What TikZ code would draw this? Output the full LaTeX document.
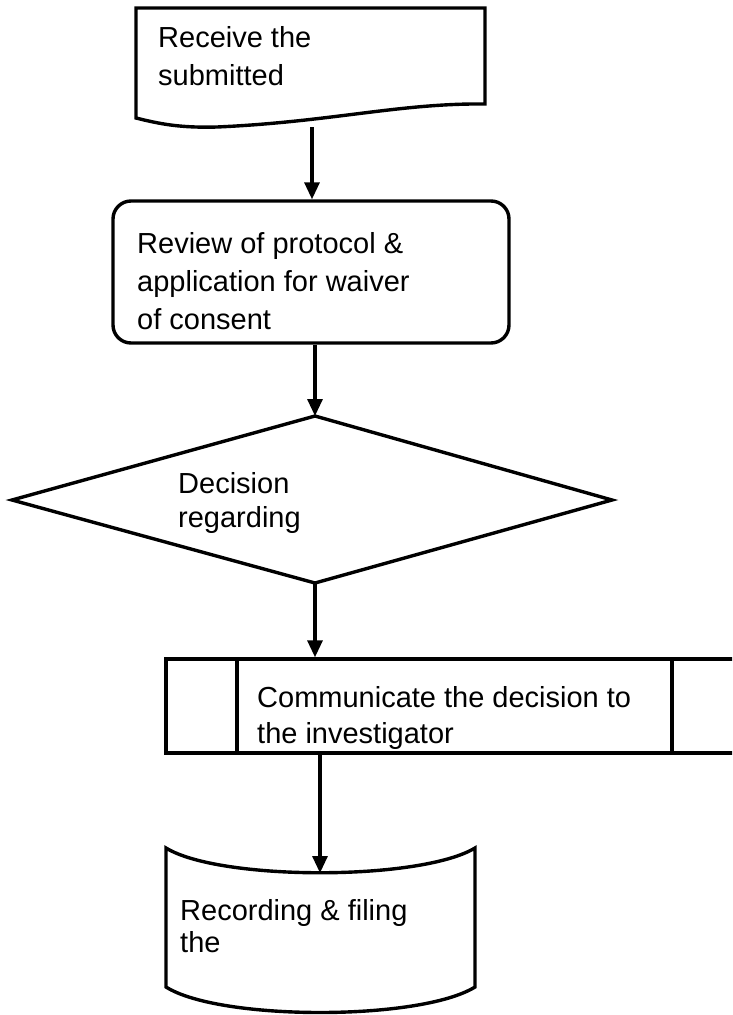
\documentclass[tikz,border=0pt]{standalone}
\usepackage{fontspec}
\setmainfont{Liberation Sans}
\usetikzlibrary{arrows.meta}
\begin{document}
\begin{tikzpicture}[x=1pt,y=-1pt,
  outline/.style={line width=3.4pt, line join=miter},
  flow/.style={line width=3.2pt, -{Triangle[length=17pt,width=15pt]}},
  label/.style={anchor=base west, inner sep=0pt, font=\fontsize{29}{38}\selectfont}]
\clip (0,0) rectangle (732,1015);

% document shape with wavy lower edge
\draw[outline] (136,8) -- (485,8) -- (485,104)
  .. controls (400,103) and (330,122) .. (217,127)
  .. controls (180,128) and (160,124) .. (136,118) -- cycle;
\coordinate (recvBot) at (312,127);
\node[label] (recv1) at (158,47) {Receive the};
\node[label] (recv2) at (158,85) {submitted};

% rounded process box
\node[outline, draw, rounded corners=18pt, minimum width=396pt, minimum height=142pt,
  inner sep=0pt] (review) at (311,272) {};
\node[label] (rev1) at (137,253) {Review of protocol \&};
\node[label] (rev2) at (137,291) {application for waiver};
\node[label] (rev3) at (137,329) {of consent};

% decision diamond
\coordinate (decTop) at (315,416);
\coordinate (decRight) at (612,500);
\coordinate (decBot) at (315,583);
\coordinate (decLeft) at (12,500);
\draw[outline] (decTop) -- (decRight) -- (decBot) -- (decLeft) -- cycle;
\node[label] (dec1) at (178,493) {Decision};
\node[label] (dec2) at (178,527) {regarding};

% predefined process box
\node[outline, draw, minimum width=569pt, minimum height=94pt, inner sep=0pt]
  (comm) at (450.5,706) {};
\draw[outline] (237,659) -- (237,753);
\draw[outline] (672,659) -- (672,753);
\node[label] (comm1) at (257,707) {Communicate the decision to};
\node[label] (comm2) at (257,743) {the investigator};

% stored record shape
\draw[outline] (166,848) .. controls (220,881) and (420,881) .. (475,848)
  -- (475,987) .. controls (420,1021) and (220,1021) .. (166,987) -- cycle;
\coordinate (recTop) at (320,873);
\node[label] (rec1) at (180,920) {Recording \& filing};
\node[label] (rec2) at (180,952) {the};

% connectors
\draw[flow] (recvBot) -- (recvBot |- review.north);
\draw[flow] (decTop |- review.south) -- (decTop);
\draw[flow] (decBot) -- (decBot |- comm.north);
\draw[flow] (recTop |- comm.south) -- (recTop);
\end{tikzpicture}
\end{document}
